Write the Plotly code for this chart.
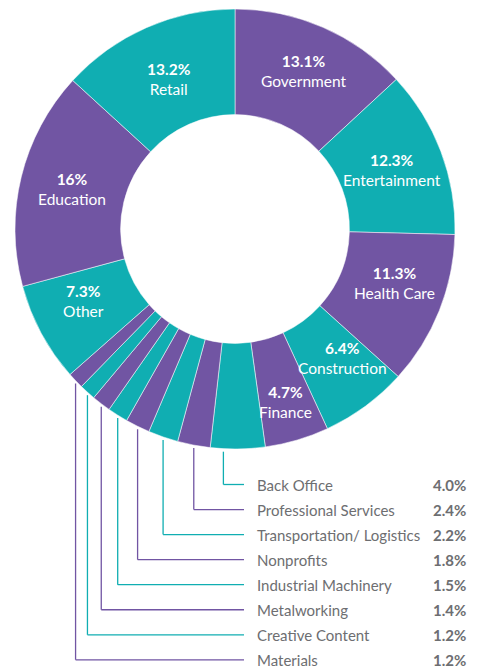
import math
import plotly.graph_objects as go

# ---------------- data ----------------
categories = ["Government", "Entertainment", "Health Care", "Construction", "Finance",
              "Back Office", "Professional Services", "Transportation/ Logistics",
              "Nonprofits", "Industrial Machinery", "Metalworking", "Creative Content",
              "Materials", "Other", "Education", "Retail"]
values = [13.1, 12.3, 11.3, 6.4, 4.7, 4.0, 2.4, 2.2, 1.8, 1.5, 1.4, 1.2, 1.2, 7.3, 16, 13.2]
pct_labels = ["13.1%", "12.3%", "11.3%", "6.4%", "4.7%", "4.0%", "2.4%", "2.2%", "1.8%",
              "1.5%", "1.4%", "1.2%", "1.2%", "7.3%", "16%", "13.2%"]
# which slices carry their label inside the ring (others get a leader line)
inside_label = [True, True, True, True, True, False, False, False, False, False,
                False, False, False, True, True, True]

# ---------------- style / layout ----------------
W, H = 480, 668
CX, CY, R = 235, 229, 220
HOLE = 0.52
LABEL_R = 168
LABEL_R_OVERRIDE = {"Finance": 180, "Government": 172, "Retail": 164}
LABEL_ANGLE_NUDGE = {"Construction": -3.5, "Health Care": -3.0, "Other": 3.0}  # degrees
LEADER_FRACTION = {"Back Office": 0.76}  # where along the slice the leader line starts
PURPLE = "#7155a3"
TEAL = "#10aeb2"
GREY = "#6d6e71"
FONT = "Lato, 'Open Sans', sans-serif"
ROW0, ROW_STEP = 484.5, 25.05
ELBOW_X, TEXT_X, VALUE_X = 244, 255, 468

colors = [PURPLE if i % 2 == 0 else TEAL for i in range(len(values))]


def px(x, y):
    return x / W, 1 - y / H


fig = go.Figure(go.Pie(
    labels=categories, values=values, sort=False, direction="clockwise", rotation=0,
    hole=HOLE,
    marker=dict(colors=colors, line=dict(color="rgba(255,255,255,0.65)", width=0.8)),
    textinfo="none", hoverinfo="skip", showlegend=False,
    domain=dict(x=[(CX - R) / W, (CX + R) / W], y=[1 - (CY + R) / H, 1 - (CY - R) / H]),
))

total = sum(values)
cum = 0
annotations = []
shapes = []
k = 0
for i, v in enumerate(values):
    name = categories[i]
    start = cum / total * 360
    span = v / total * 360
    cum += v
    if inside_label[i]:
        mid = math.radians(start + span / 2 + LABEL_ANGLE_NUDGE.get(name, 0))
        r = LABEL_R_OVERRIDE.get(name, LABEL_R)
        x = CX + r * math.sin(mid)
        y = CY - r * math.cos(mid)
        ax, ay = px(x, y)
        annotations.append(dict(
            x=ax, y=ay, xref="paper", yref="paper", showarrow=False,
            text=f"<b>{pct_labels[i]}</b><br>{name}",
            font=dict(family=FONT, size=15.5, color="white"),
            xanchor="center", yanchor="middle", align="center"))
    else:
        a = math.radians(start + span * LEADER_FRACTION.get(name, 0.5))
        x = CX + R * math.sin(a)
        ytop = CY - R * math.cos(a) + 3
        yrow = ROW0 + ROW_STEP * k
        x0, y0 = px(x, ytop)
        x1, y1 = px(x, yrow)
        x2, _ = px(ELBOW_X, yrow)
        shapes.append(dict(type="line", xref="paper", yref="paper", x0=x0, y0=y0, x1=x1, y1=y1,
                           line=dict(color=colors[i], width=1.3)))
        shapes.append(dict(type="line", xref="paper", yref="paper", x0=x1, y0=y1, x1=x2, y1=y1,
                           line=dict(color=colors[i], width=1.3)))
        tx, ty = px(TEXT_X, yrow)
        vx, _ = px(VALUE_X, yrow)
        annotations.append(dict(
            x=tx, y=ty, xref="paper", yref="paper", showarrow=False, text=name,
            font=dict(family=FONT, size=15, color=GREY), xanchor="left", yanchor="middle"))
        annotations.append(dict(
            x=vx, y=ty, xref="paper", yref="paper", showarrow=False,
            text=f"<b>{pct_labels[i]}</b>",
            font=dict(family=FONT, size=15, color=GREY), xanchor="right", yanchor="middle"))
        k += 1

fig.update_layout(
    width=W, height=H, margin=dict(l=0, r=0, t=0, b=0),
    paper_bgcolor="white", plot_bgcolor="white",
    annotations=annotations, shapes=shapes,
)

fig.write_html("out.html", config={"displayModeBar": False},
               post_script="document.body.style.margin='0';document.body.style.padding='0';")
